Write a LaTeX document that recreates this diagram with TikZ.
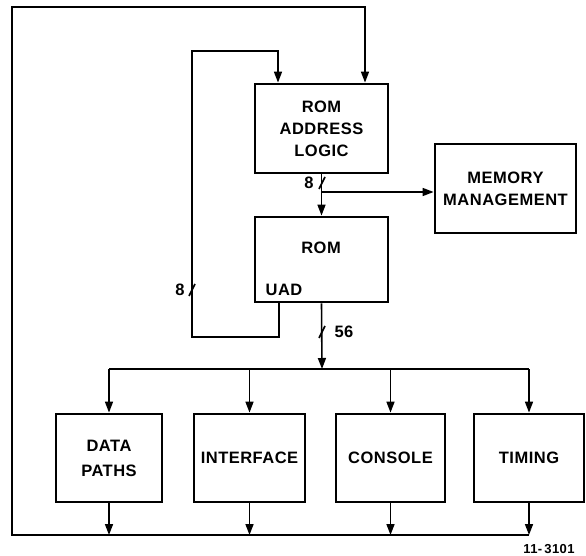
\documentclass[tikz,border=0pt]{standalone}
\usepackage{fontspec}
\setmainfont{Liberation Sans}[LetterSpace=3]
\usetikzlibrary{arrows.meta}
\tikzset{
  blk/.style={draw, line width=2.8pt, inner sep=0pt, align=center,
    font=\fontsize{16.5}{22}\selectfont\bfseries},
  txt/.style={inner sep=0pt, align=center, font=\fontsize{16.5}{22}\selectfont\bfseries},
  wire/.style={line width=1.6pt},
  arr/.style={line width=1.6pt, -{Triangle[length=11pt,width=8pt]}},
  slash/.style={line width=1.6pt}
}
\begin{document}
\begin{tikzpicture}[x=1pt,y=-1pt]
\useasboundingbox (0,0) rectangle (586,556);
% blocks
\node[blk, minimum width=133pt, minimum height=89pt] (ral) at (321.5,128.5) {ROM\\ADDRESS\\LOGIC};
\node[blk, minimum width=133pt, minimum height=85pt] (rom) at (321.5,259.5) {};
\node[txt] (romt) at (321,248) {ROM};
\node[txt] (uad) at (284,290) {UAD};
\node[blk, minimum width=141pt, minimum height=89pt] (mm) at (505.5,188.5) {MEMORY\\MANAGEMENT};
\node[blk, minimum width=106pt, minimum height=88pt, font=\fontsize{16.5}{25}\selectfont\bfseries] (dp) at (109,458) {DATA\\PATHS};
\node[blk, minimum width=111pt, minimum height=88pt] (if) at (249.5,458) {INTERFACE};
\node[blk, minimum width=109pt, minimum height=88pt] (con) at (390.5,458) {CONSOLE};
\node[blk, minimum width=110pt, minimum height=88pt] (tim) at (529,458) {TIMING};
% coordinates
\coordinate (tl) at (12,7);
\coordinate (bl) at (12,535);
\coordinate (a2) at (365,7);
\coordinate (u1) at (279,337);
\coordinate (u2) at (192,337);
\coordinate (u3) at (192,51);
\coordinate (u4) at (278,51);
\coordinate (br) at (322,192);
\coordinate (bus) at (322,369);
\coordinate (busl) at (109,369);
\coordinate (busr) at (529,369);
% address logic -> ROM and memory management
\draw[arr] (ral.south) -- (rom.north);
\draw[arr] (br) -- (br -| mm.west);
% UAD feedback loop
\draw[arr] (u1 |- rom.south) -- (u1) -- (u2) -- (u3) -- (u4) -- (u4 |- ral.north);
% ROM output to bus
\draw[arr] (rom.south) -- (bus);
\draw[wire] (busl) -- (busr);
\draw[arr] (busl) -- (dp.north);
\draw[arr] (if.north |- bus) -- (if.north);
\draw[arr] (con.north |- bus) -- (con.north);
\draw[arr] (busr) -- (tim.north);
% outputs to return bus
\draw[arr] (dp.south) -- (dp.south |- bl);
\draw[arr] (if.south) -- (if.south |- bl);
\draw[arr] (con.south) -- (con.south |- bl);
\draw[arr] (tim.south) -- (tim.south |- bl);
\draw[arr] (tim.south |- bl) -- (bl) -- (tl) -- (a2) -- (a2 |- ral.north);
% slash marks and widths
\coordinate (s1) at (322,183);
\coordinate (s2) at (192,290);
\coordinate (s3) at (322,332);
\draw[slash] ([shift={(-3,6)}]s1) -- ([shift={(3,-6)}]s1);
\draw[slash] ([shift={(-3,6)}]s2) -- ([shift={(3,-6)}]s2);
\draw[slash] ([shift={(-3,6)}]s3) -- ([shift={(3,-6)}]s3);
\node[txt] (n1) at (309,183) {8};
\node[txt] (n2) at (180,290) {8};
\node[txt] (n3) at (344,332) {56};
\node[txt, font=\fontsize{13}{15}\selectfont\bfseries] (fig) at (549,549) {11-\,3101};
\end{tikzpicture}
\end{document}
